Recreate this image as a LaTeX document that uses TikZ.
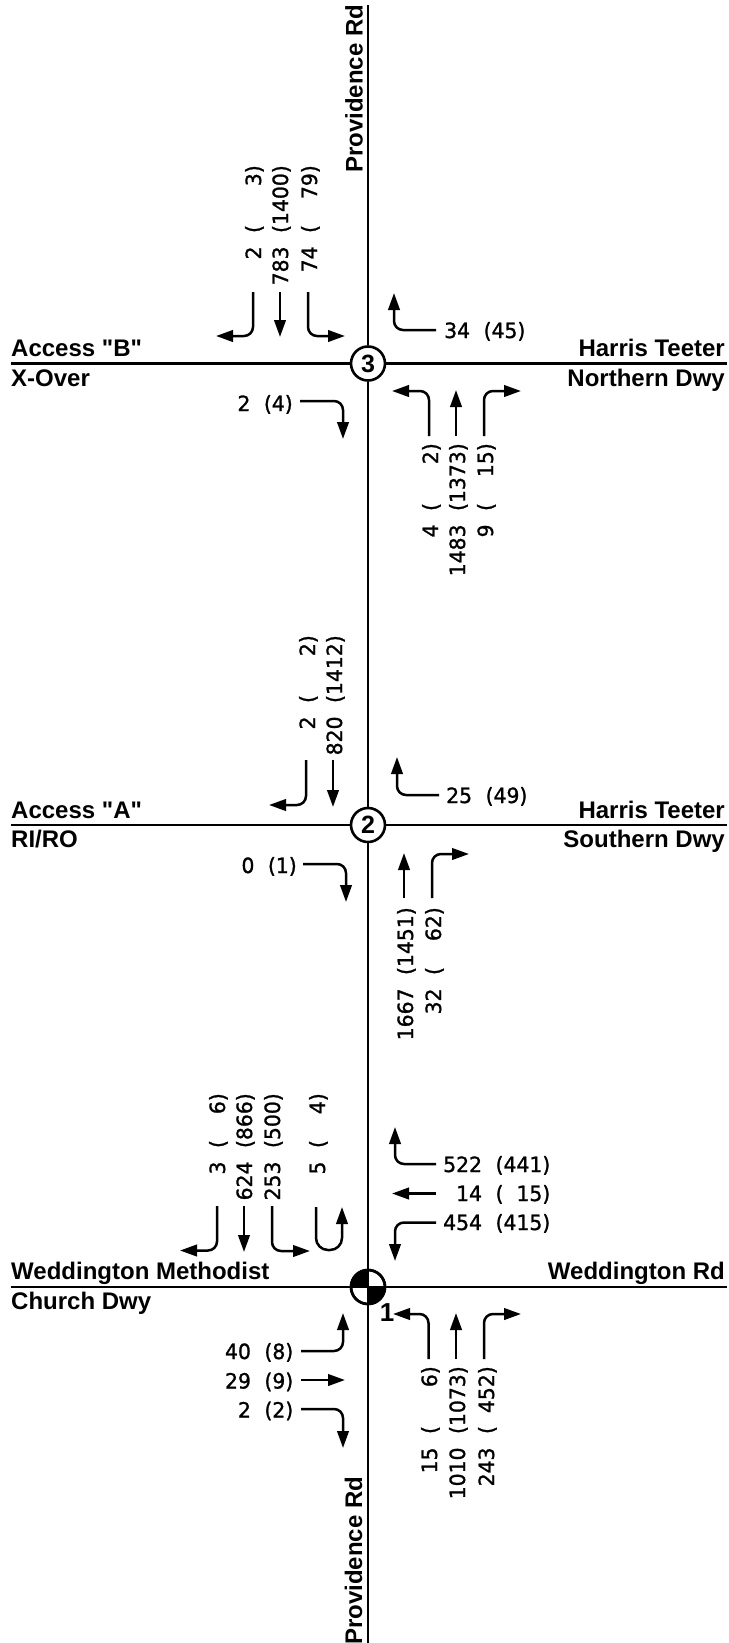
\documentclass[tikz,border=0pt]{standalone}
\usepackage{fontspec}
\newfontfamily\roadf{Liberation Sans}[Ligatures=NoCommon]
\newfontfamily\volf{DejaVu Sans}[FakeBold=1.2,FakeStretch=0.97]
\setmainfont{Liberation Sans}
\usetikzlibrary{arrows.meta}
\newlength{\dgw}\setlength{\dgw}{12.96pt}
\newlength{\volgap}\setlength{\volgap}{13.5pt}
\newcommand{\volfont}{\volf\fontsize{21}{23}\selectfont}
\newcommand{\roadfont}{\roadf\fontsize{24}{26}\selectfont\bfseries}
% number, gap, ( inner field of #3 digits )
\newcommand{\volpair}[3]{#1\hspace{\volgap}(\makebox[#3\dgw][r]{#2})}
\newcommand{\volpairL}[4]{\makebox[#4\dgw][r]{#1}\hspace{\volgap}(\makebox[#3\dgw][r]{#2})}
% upward-reading column: name, centre x, top y, num, inner, digits
\newcommand{\volcol}[6]{\node[vol,rotate=90,anchor=base east] (#1) at ({#2+8},#3) {\volpair{#4}{#5}{#6}};}
\tikzset{
  x=1pt,y=-1pt,
  vol/.style={inner sep=0pt,font=\volfont},
  roadlabel/.style={inner sep=0pt,font=\roadfont},
  road/.style={line width=2.9pt,black},
  mov/.style={line width=2.5pt,rounded corners=9pt,-{Triangle[length=17pt,width=11.5pt]}},
  junction/.style={circle,draw,line width=2.6pt,fill=white,minimum size=34pt,inner sep=0pt,font=\roadf\fontsize{25}{27}\selectfont\bfseries},
}
\begin{document}
\begin{tikzpicture}
\useasboundingbox (0,0) rectangle (728,1643);
\fill[white] (0,0) rectangle (728,1643);
% road ends
\coordinate (nend) at (368,5);
\coordinate (send) at (368,1643);
\coordinate (w3) at (11,363.5);
\coordinate (e3) at (727,363.5);
\coordinate (w2) at (11,825);
\coordinate (e2) at (727,825);
\coordinate (w1) at (11,1287);
\coordinate (e1) at (727,1287);
% junctions
\node[junction] (j3) at (368,363.5) {3};
\node[junction] (j2) at (368,825) {2};
\node[junction] (j1) at (368,1287) {};
\begin{scope}
\clip (368,1287) circle[radius=17pt];
\fill (350,1269) rectangle (368,1287);
\fill (368,1287) rectangle (386,1305);
\end{scope}
\draw[road] (nend) -- (j3);
\draw[road] (j3) -- (j2);
\draw[road] (j2) -- (j1);
\draw[road] (j1) -- (send);
\draw[road] (w3) -- (j3);
\draw[road] (j3) -- (e3);
\draw[road] (w2) -- (j2);
\draw[road] (j2) -- (e2);
\draw[road] (w1) -- (e1);
\draw[road] (j1.north) -- (j1.south);
\node[junction,fill=none] (j1r) at (368,1287) {};
% road labels
\node[roadlabel,rotate=90,anchor=base west] (prn) at (362.5,173) {Providence Rd};
\node[roadlabel,rotate=90,anchor=base west] (prs) at (362,1645) {Providence Rd};
\node[roadlabel,anchor=base west] (acb) at (11,356.7) {Access "B"};
\node[roadlabel,anchor=base west] (xov) at (11,386) {X-Over};
\node[roadlabel,anchor=base east] (hn) at (725,356.7) {Harris Teeter};
\node[roadlabel,anchor=base east] (nd) at (725,386) {Northern Dwy};
\node[roadlabel,anchor=base west] (aca) at (11,818) {Access "A"};
\node[roadlabel,anchor=base west] (rir) at (11,847) {RI/RO};
\node[roadlabel,anchor=base east] (hs) at (725,818) {Harris Teeter};
\node[roadlabel,anchor=base east] (sd) at (725,847) {Southern Dwy};
\node[roadlabel,anchor=base west] (wm) at (11,1279) {Weddington Methodist};
\node[roadlabel,anchor=base west] (cd) at (11,1309) {Church Dwy};
\node[roadlabel,anchor=base east] (wr) at (725,1279) {Weddington Rd};
\node[roadlabel,anchor=base,font=\roadf\fontsize{26}{28}\selectfont\bfseries] (one) at (387,1321) {1};
% intersection 3 volumes
\volcol{a1}{253}{165}{2}{3}{4}
\volcol{a2}{280}{165}{783}{1400}{4}
\volcol{a3}{309}{165}{74}{79}{4}
\volcol{a4}{430}{443}{4}{2}{4}
\volcol{a5}{457}{443}{1483}{1373}{4}
\volcol{a6}{485}{443}{9}{15}{4}
\node[vol,anchor=base west] (a7) at (444,338) {34\hspace{\volgap}(45)};
\node[vol,anchor=base east] (a8) at (293,411) {2\hspace{\volgap}(4)};
\draw[mov] (253,292) -- (253,336) -- (216,336);
\draw[mov] (280,292) -- (280,337);
\draw[mov] (308,292) -- (308,336) -- (345,336);
\draw[mov] (436,330) -- (394,330) -- (394,293);
\draw[mov] (300,401) -- (343,401) -- (343,439);
\draw[mov] (429,436) -- (429,391) -- (392,391);
\draw[mov] (456,436) -- (456,390);
\draw[mov] (484,436) -- (484,391) -- (521,391);
% intersection 2 volumes
\volcol{b1}{307}{635}{2}{2}{4}
\volcol{b2}{334}{635}{820}{1412}{4}
\volcol{b3}{405}{907}{1667}{1451}{4}
\volcol{b4}{433}{907}{32}{62}{4}
\node[vol,anchor=base west] (b5) at (446,803) {25\hspace{\volgap}(49)};
\node[vol,anchor=base east] (b6) at (297,873) {0\hspace{\volgap}(1)};
\draw[mov] (306,760) -- (306,805) -- (269,805);
\draw[mov] (333,760) -- (333,807);
\draw[mov] (439,795) -- (397,795) -- (397,757);
\draw[mov] (303,864) -- (346,864) -- (346,902);
\draw[mov] (404,898) -- (404,853);
\draw[mov] (432,898) -- (432,854) -- (469,854);
% intersection 1 volumes
\volcol{c1}{217}{1093}{3}{6}{3}
\volcol{c2}{244}{1093}{624}{866}{3}
\volcol{c3}{272}{1093}{253}{500}{3}
\volcol{c4}{317}{1093}{5}{4}{3}
\volcol{c5}{429}{1366}{15}{6}{4}
\volcol{c6}{457}{1366}{1010}{1073}{4}
\volcol{c7}{486}{1366}{243}{452}{4}
\node[vol,anchor=base west] (c8) at (443,1172) {\volpairL{522}{441}{3}{3}};
\node[vol,anchor=base west] (c9) at (443,1201) {\volpairL{14}{15}{3}{3}};
\node[vol,anchor=base west] (c10) at (443,1230) {\volpairL{454}{415}{3}{3}};
\node[vol,anchor=base east] (c11) at (293.5,1359) {40\hspace{\volgap}(8)};
\node[vol,anchor=base east] (c12) at (293.5,1388.5) {29\hspace{\volgap}(9)};
\node[vol,anchor=base east] (c13) at (293.5,1417.5) {2\hspace{\volgap}(2)};
\draw[mov] (217,1206) -- (217,1250.5) -- (180,1250.5);
\draw[mov] (244,1206) -- (244,1252);
\draw[mov] (272,1206) -- (272,1251) -- (310,1251);
\draw[mov,rounded corners=12pt] (316,1207) -- (316,1250) -- (342,1250) -- (342,1207);
\draw[mov] (436,1164) -- (395,1164) -- (395,1127);
\draw[mov] (436,1193.5) -- (392,1193.5);
\draw[mov] (436,1222.5) -- (395,1222.5) -- (395,1261);
\draw[mov] (301,1351) -- (343,1351) -- (343,1313);
\draw[mov] (301,1380) -- (345,1380);
\draw[mov] (301,1409) -- (343,1409) -- (343,1448);
\draw[mov] (428.5,1359) -- (428.5,1314) -- (393,1314);
\draw[mov] (456,1359) -- (456,1313);
\draw[mov] (484,1359) -- (484,1314) -- (521,1314);
\end{tikzpicture}
\end{document}
